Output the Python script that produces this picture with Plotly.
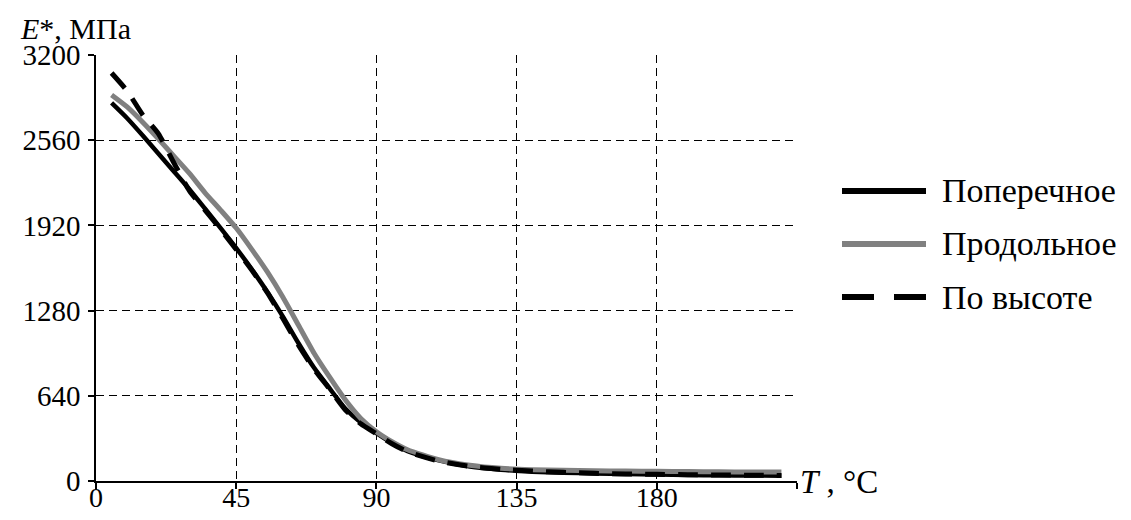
import plotly.graph_objects as go

# ---------------- data ----------------
series_names = ["Поперечное", "Продольное", "По высоте"]

T_cross = [5, 10, 15, 20, 25, 30, 35, 40, 45, 50, 55, 60, 65, 70, 75, 80, 85, 90,
           95, 100, 110, 120, 130, 140, 150, 160, 170, 180, 190, 200, 210, 220]
E_cross = [2840, 2725, 2595, 2460, 2325, 2190, 2045, 1900, 1750, 1590, 1420, 1235, 1035, 850,
           695, 545, 440, 360, 285, 225, 155, 108, 84, 70, 62, 57, 52, 48, 45, 43, 41, 40]

T_long = [5, 10, 15, 20, 25, 30, 35, 40, 45, 50, 55, 60, 65, 70, 75, 80, 85, 90,
          95, 100, 110, 120, 130, 140, 150, 160, 170, 180, 190, 200, 210, 220]
E_long = [2900, 2810, 2695, 2570, 2440, 2310, 2165, 2035, 1900, 1740, 1570, 1380, 1170, 960,
          780, 610, 470, 370, 295, 235, 160, 118, 95, 85, 80, 77, 75, 73, 71, 69, 68, 67]

T_height = [5, 10, 15, 20, 25, 30, 35, 40, 45, 50, 55, 60, 65, 70, 75, 80, 85, 90,
            95, 100, 110, 120, 130, 140, 150, 160, 170, 180, 190, 200, 210, 220]
E_height = [3065, 2930, 2750, 2610, 2390, 2180, 2035, 1890, 1740, 1585, 1415, 1220, 1020, 840,
            690, 535, 430, 355, 280, 220, 150, 110, 88, 75, 65, 58, 53, 50, 47, 45, 43, 42]

x_ticks = [0, 45, 90, 135, 180, 225]
x_ticktext = ["0", "45", "90", "135", "180", ""]
y_ticks = [0, 640, 1280, 1920, 2560, 3200]

# ---------------- styles ----------------
styles = [
    dict(color="black", width=4.5, dash="solid"),
    dict(color="#808080", width=5, dash="solid"),
    dict(color="black", width=5, dash="20px,13px"),
]
FONT = "Liberation Serif, Times New Roman, serif"

# page has an 8px body margin; compensate
W, H = 1115, 512
L, T = 88, 47
PW, PH = 701, 426
R = W - L - PW
B = H - T - PH

fig = go.Figure()
for (tx, ey), name, st in zip([(T_cross, E_cross), (T_long, E_long), (T_height, E_height)],
                              series_names, styles):
    fig.add_trace(go.Scatter(x=tx, y=ey, mode="lines", name=name,
                             line=dict(color=st["color"], width=st["width"], dash=st["dash"],
                                       shape="spline", smoothing=0.6),
                             showlegend=False))

fig.update_layout(
    width=W, height=H,
    margin=dict(l=L, r=R, t=T, b=B, autoexpand=False),
    paper_bgcolor="white", plot_bgcolor="white",
    font=dict(family=FONT, size=29, color="black"),
)
common = dict(showline=True, linecolor="black", linewidth=1.5,
              ticks="outside", ticklen=6, tickcolor="black", tickwidth=1.5,
              showgrid=True, gridcolor="black", gridwidth=1, griddash="8px,5px",
              zeroline=False, automargin=False)
fig.update_xaxes(range=[0, 225], tickvals=x_ticks, ticktext=x_ticktext,
                 ticklabelstandoff=-15, tickfont=dict(family=FONT, size=28, color="black"),
                 **common)
fig.update_yaxes(range=[0, 3200], tickvals=y_ticks, ticklabelstandoff=2,
                 tickfont=dict(family=FONT, size=29, color="black"), **common)

def px_to_paper_x(px):
    return (px - 8 - L) / PW
def px_to_paper_y(py):
    return (H - B - (py - 8)) / PH

# axis titles
fig.add_annotation(xref="paper", yref="paper", x=px_to_paper_x(18), y=px_to_paper_y(28),
                   xanchor="left", yanchor="middle", showarrow=False,
                   text="<i>E</i>*, МПа",
                   font=dict(family=FONT, size=30, color="black"))
fig.add_annotation(xref="paper", yref="paper", x=px_to_paper_x(798), y=px_to_paper_y(482),
                   xanchor="left", yanchor="middle", showarrow=False,
                   text="<i>T</i> , °C",
                   font=dict(family=FONT, size=33, color="black"))

# manual legend
leg_rows = [191, 244, 297]
for name, st, ry in zip(series_names, styles, leg_rows):
    yy = px_to_paper_y(ry)
    fig.add_shape(type="line", xref="paper", yref="paper",
                  x0=px_to_paper_x(842), x1=px_to_paper_x(926), y0=yy, y1=yy,
                  line=dict(color=st["color"], width=6,
                            dash="32px,20px" if st["dash"] != "solid" else "solid"))
    fig.add_annotation(xref="paper", yref="paper", x=px_to_paper_x(940), y=yy,
                       xanchor="left", yanchor="middle", showarrow=False, text=name,
                       font=dict(family=FONT, size=34, color="black"))

fig.write_html("out.html")
